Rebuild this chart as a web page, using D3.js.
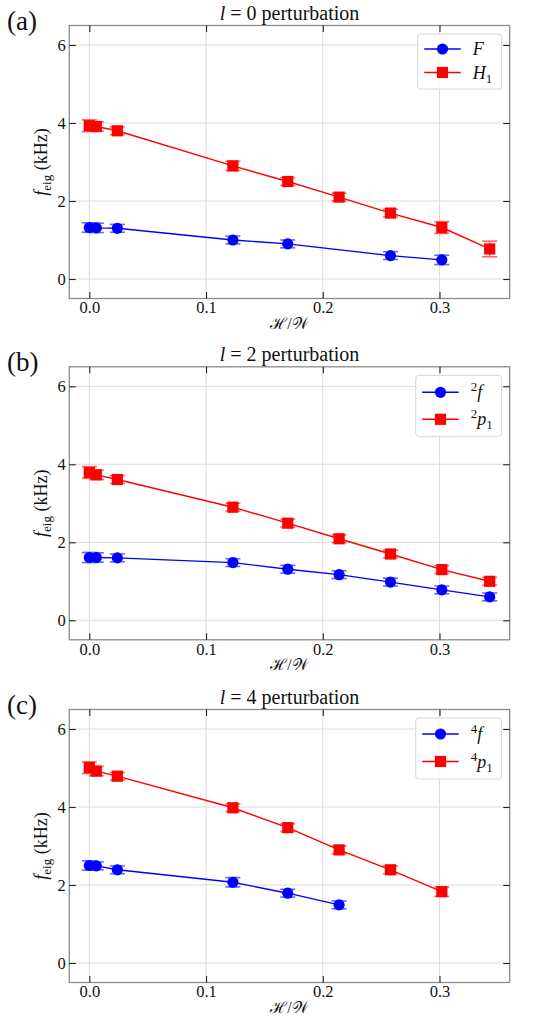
<!DOCTYPE html>
<html><head><meta charset="utf-8">
<script src="https://cdn.jsdelivr.net/npm/d3@7"></script>
<style>
body{margin:0;background:#fff}
text{font-family:"Liberation Serif","Times New Roman",serif;fill:#111}
</style>
</head><body><svg id="c" width="552" height="1024"></svg>
<script>
// ---------------- data ----------------
const xTicks = [0.0, 0.1, 0.2, 0.3];
const xTickLabels = ["0.0", "0.1", "0.2", "0.3"];
const yTicks = [0, 2, 4, 6];
const yTickLabels = ["0", "2", "4", "6"];
const panelLetters = ["(a)", "(b)", "(c)"];
const panelLValues = ["0", "2", "4"];

// panel (a): l = 0
const aF_x   = [0, 0.006, 0.024, 0.123, 0.170, 0.258, 0.302];
const aF_y   = [1.32, 1.31, 1.30, 1.00, 0.90, 0.60, 0.49];
const aF_err = [0.12, 0.12, 0.10, 0.10, 0.10, 0.10, 0.12];
const aH_x   = [0, 0.006, 0.024, 0.123, 0.170, 0.214, 0.258, 0.302, 0.343];
const aH_y   = [3.93, 3.91, 3.80, 2.90, 2.50, 2.10, 1.69, 1.32, 0.77];
const aH_err = [0.15, 0.12, 0.10, 0.12, 0.10, 0.10, 0.10, 0.15, 0.20];

// panel (b): l = 2
const bf_x   = [0, 0.006, 0.024, 0.123, 0.170, 0.214, 0.258, 0.302, 0.343];
const bf_y   = [1.61, 1.61, 1.60, 1.48, 1.31, 1.17, 0.98, 0.78, 0.60];
const bf_err = [0.13, 0.12, 0.10, 0.10, 0.10, 0.10, 0.10, 0.10, 0.10];
const bp_x   = [0, 0.006, 0.024, 0.123, 0.170, 0.214, 0.258, 0.302, 0.343];
const bp_y   = [3.79, 3.73, 3.61, 2.90, 2.49, 2.09, 1.70, 1.30, 1.00];
const bp_err = [0.15, 0.12, 0.10, 0.10, 0.10, 0.10, 0.10, 0.10, 0.10];

// panel (c): l = 4
const cf_x   = [0, 0.006, 0.024, 0.123, 0.170, 0.214];
const cf_y   = [2.50, 2.49, 2.39, 2.07, 1.79, 1.49];
const cf_err = [0.12, 0.10, 0.10, 0.12, 0.10, 0.10];
const cp_x   = [0, 0.006, 0.024, 0.123, 0.170, 0.214, 0.258, 0.302];
const cp_y   = [5.01, 4.92, 4.79, 3.98, 3.47, 2.90, 2.39, 1.83];
const cp_err = [0.15, 0.12, 0.10, 0.10, 0.10, 0.10, 0.10, 0.12];

// legend labels: [super, main(italic), sub]
const legA = [["", "F", ""], ["", "H", "1"]];
const legB = [["2", "f", ""], ["2", "p", "1"]];
const legC = [["4", "f", ""], ["4", "p", "1"]];

// ---------------- build ----------------
const zip = (xs, ys, es) => xs.map((x, i) => ({x, y: ys[i], e: es[i]}));
const panels = [
  {top: 25.5, leg: legA, legH: 55, legW: 84, rows: [15, 38.5],
   series: [{d: zip(aF_x, aF_y, aF_err), color: "#0000ff", m: "circle"},
            {d: zip(aH_x, aH_y, aH_err), color: "#ff0000", m: "square"}]},
  {top: 366.8, leg: legB, legH: 61, legW: 86, rows: [17, 44],
   series: [{d: zip(bf_x, bf_y, bf_err), color: "#0000ff", m: "circle"},
            {d: zip(bp_x, bp_y, bp_err), color: "#ff0000", m: "square"}]},
  {top: 709.5, leg: legC, legH: 61, legW: 86, rows: [16, 43.5],
   series: [{d: zip(cf_x, cf_y, cf_err), color: "#0000ff", m: "circle"},
            {d: zip(cp_x, cp_y, cp_err), color: "#ff0000", m: "square"}]}
];

const svg = d3.select("#c");
const L = 69.3, R = 509.7, H = 273;
const x = d3.scaleLinear().domain([-0.01715, 0.36015]).range([L, R]);

function marker(g, m, cx, cy, color) {
  if (m === "circle") {
    g.append("circle").attr("cx", cx).attr("cy", cy).attr("r", 5.6).attr("fill", color);
  } else {
    g.append("rect").attr("x", cx - 5.6).attr("y", cy - 5.6)
      .attr("width", 11.2).attr("height", 11.2).attr("fill", color);
  }
}

panels.forEach((p, pi) => {
  const top = p.top, bot = top + H;
  const y = d3.scaleLinear().domain([-0.5, 6.5]).range([bot, top]);
  const g = svg.append("g");

  // grid
  g.selectAll(".gx").data(xTicks).join("line")
    .attr("x1", d => x(d)).attr("x2", d => x(d)).attr("y1", top).attr("y2", bot)
    .attr("stroke", "#d8d8d8").attr("stroke-width", 0.9);
  g.selectAll(".gy").data(yTicks).join("line")
    .attr("y1", d => y(d)).attr("y2", d => y(d)).attr("x1", L).attr("x2", R)
    .attr("stroke", "#d8d8d8").attr("stroke-width", 0.9);

  // series
  p.series.forEach(s => {
    const line = d3.line().x(d => x(d.x)).y(d => y(d.y));
    g.append("path").datum(s.d).attr("d", line).attr("fill", "none")
      .attr("stroke", s.color).attr("stroke-width", 1.4);
    const eb = g.append("g").attr("stroke", s.color).attr("stroke-width", 1.6).attr("opacity", 0.6);
    s.d.forEach(d => {
      eb.append("line").attr("x1", x(d.x)).attr("x2", x(d.x)).attr("y1", y(d.y - d.e)).attr("y2", y(d.y + d.e));
      [d.y - d.e, d.y + d.e].forEach(v => eb.append("line")
        .attr("x1", x(d.x) - 7.5).attr("x2", x(d.x) + 7.5).attr("y1", y(v)).attr("y2", y(v)));
    });
    s.d.forEach(d => marker(g, s.m, x(d.x), y(d.y), s.color));
  });

  // frame
  g.append("rect").attr("x", L).attr("y", top).attr("width", R - L).attr("height", H)
    .attr("fill", "none").attr("stroke", "#8c8c8c").attr("stroke-width", 1.3);

  // axes with inward ticks
  const axB = d3.axisBottom(x).tickValues(xTicks).tickFormat((d, i) => xTickLabels[i]).tickSizeInner(-6.5).tickSizeOuter(0).tickPadding(3);
  const axT = d3.axisTop(x).tickValues(xTicks).tickFormat("").tickSizeInner(-6.5).tickSizeOuter(0);
  const axL = d3.axisLeft(y).tickValues(yTicks).tickFormat((d, i) => yTickLabels[i]).tickSizeInner(-6.5).tickSizeOuter(0).tickPadding(3.5);
  const axR = d3.axisRight(y).tickValues(yTicks).tickFormat("").tickSizeInner(-6.5).tickSizeOuter(0);
  [[axB, `translate(0,${bot})`], [axT, `translate(0,${top})`], [axL, `translate(${L},0)`], [axR, `translate(${R},0)`]]
    .forEach(([ax, tr]) => {
      const a = g.append("g").attr("transform", tr).call(ax);
      a.select(".domain").remove();
      a.selectAll(".tick line").attr("stroke", "#222").attr("stroke-width", 1.1);
      a.selectAll(".tick text").attr("font-size", 16.5).attr("font-family", "Liberation Serif").attr("fill", "#111");
    });

  // title
  const t = g.append("text").attr("x", (L + R) / 2).attr("y", top - 5.5).attr("text-anchor", "middle").attr("font-size", 20);
  t.append("tspan").attr("font-style", "italic").text("l");
  t.append("tspan").text(" = " + panelLValues[pi] + " perturbation");

  // panel letter
  g.append("text").attr("x", 7).attr("y", top + 4.5).attr("font-size", 27).text(panelLetters[pi]);

  // y label
  const yl = g.append("text").attr("transform", `translate(${47},${(top + bot) / 2}) rotate(-90)`)
    .attr("text-anchor", "middle").attr("font-size", 18);
  yl.append("tspan").attr("font-style", "italic").text("f");
  yl.append("tspan").attr("font-size", 13).attr("dy", 4).text("eig");
  yl.append("tspan").attr("dy", -4).text(" (kHz)");

  // x label
  g.append("text").attr("x", (L + R) / 2).attr("y", bot + 30).attr("text-anchor", "middle")
    .attr("font-size", 16).text("ℋ/𝒲");

  // legend
  const lx = R - 8 - p.legW, ly = top + 8.5;
  const lg = g.append("g");
  lg.append("rect").attr("x", lx).attr("y", ly).attr("width", p.legW).attr("height", p.legH)
    .attr("rx", 3).attr("fill", "#fff").attr("fill-opacity", 0.85).attr("stroke", "#d6d6d6").attr("stroke-width", 1);
  p.series.forEach((s, si) => {
    const yy = ly + p.rows[si];
    lg.append("line").attr("x1", lx + 6.5).attr("x2", lx + 43).attr("y1", yy).attr("y2", yy)
      .attr("stroke", s.color).attr("stroke-width", 1.4);
    marker(lg, s.m, lx + 24.8, yy, s.color);
    const [sup, main, sub] = p.leg[si];
    const tx = lg.append("text").attr("x", lx + 55).attr("y", yy + 6).attr("font-size", 18);
    if (sup) tx.append("tspan").attr("font-size", 13).attr("dy", -7).text(sup);
    tx.append("tspan").attr("font-style", "italic").attr("dy", sup ? 7 : 0).text(main);
    if (sub) tx.append("tspan").attr("font-size", 13).attr("dy", 4).text(sub);
  });
});
</script>
</body></html>
